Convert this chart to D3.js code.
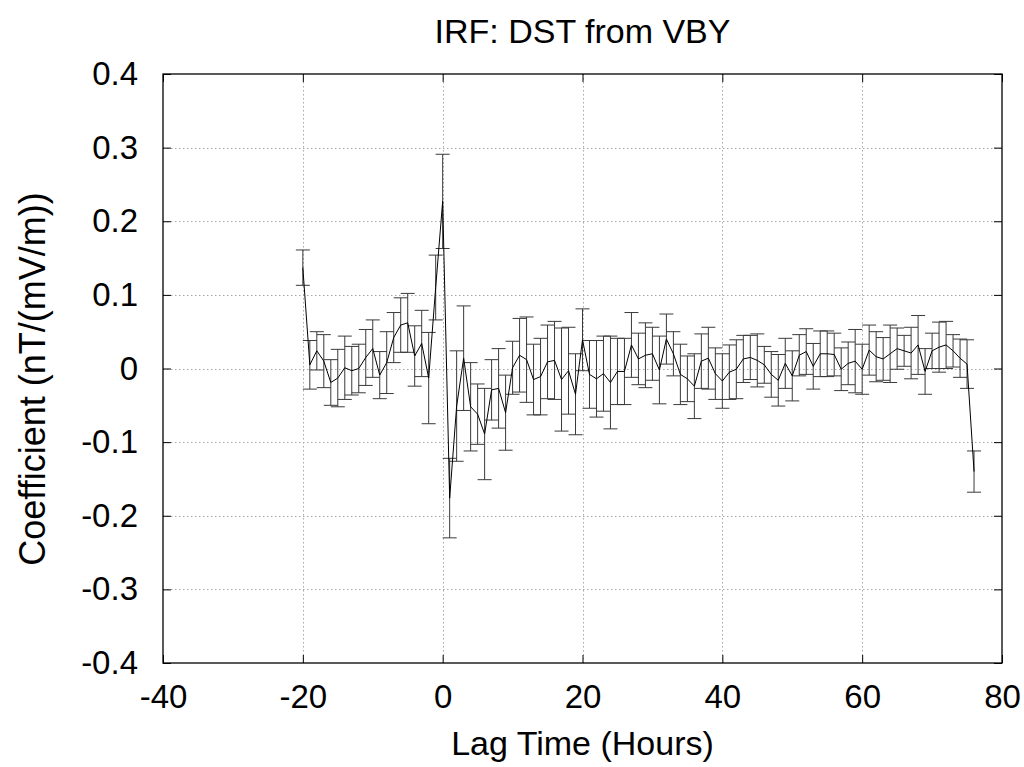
<!DOCTYPE html>
<html>
<head>
<meta charset="utf-8">
<script src="https://cdn.jsdelivr.net/npm/d3@7"></script>
<style>
  body { margin: 0; background: #fff; }
  text { font-family: "Liberation Sans", Arial, sans-serif; fill: #000; }
</style>
</head>
<body>
<div id="chart"></div>
<script>
// IRF: DST from VBY -- coefficient vs lag with error bars
const W = 1024, H = 767;

const lags = [-20, -19, -18, -17, -16, -15, -14, -13, -12, -11, -10, -9, -8, -7, -6, -5, -4, -3, -2, -1,
  0, 1, 2, 3, 4, 5, 6, 7, 8, 9, 10, 11, 12, 13, 14, 15, 16, 17, 18, 19,
  20, 21, 22, 23, 24, 25, 26, 27, 28, 29, 30, 31, 32, 33, 34, 35, 36, 37, 38, 39,
  40, 41, 42, 43, 44, 45, 46, 47, 48, 49, 50, 51, 52, 53, 54, 55, 56, 57, 58, 59,
  60, 61, 62, 63, 64, 65, 66, 67, 68, 69, 70, 71, 72, 73, 74, 75, 76];

const coef = [0.137, 0.005, 0.024, 0.010, -0.019, -0.013, 0.001, -0.003, 0.000, 0.015,
  0.027, -0.009, 0.008, 0.042, 0.059, 0.062, 0.017, 0.034, -0.013, 0.110,
  0.227, -0.176, -0.051, 0.014, -0.052, -0.062, -0.089, -0.029, -0.027, -0.060,
  0.001, 0.018, 0.012, -0.015, -0.011, 0.009, 0.011, -0.015, -0.003, -0.035,
  0.039, -0.008, -0.014, -0.007, -0.019, -0.004, -0.004, 0.032, 0.013, 0.018,
  0.020, -0.002, 0.040, 0.020, -0.008, -0.014, -0.024, 0.010, 0.014, -0.007,
  -0.017, -0.005, -0.001, 0.013, 0.015, 0.011, 0.005, -0.008, -0.016, 0.007,
  -0.010, 0.018, 0.023, 0.003, 0.020, 0.020, 0.019, -0.001, 0.007, 0.010,
  -0.001, 0.025, 0.016, 0.013, 0.020, 0.027, 0.024, 0.021, 0.032, -0.004,
  0.024, 0.029, 0.032, 0.024, 0.014, 0.006, -0.140];

const err = [0.024, 0.033, 0.026, 0.036, 0.031, 0.039, 0.043, 0.033, 0.033, 0.038,
  0.039, 0.032, 0.042, 0.034, 0.037, 0.040, 0.041, 0.045, 0.062, 0.044,
  0.064, 0.054, 0.075, 0.071, 0.060, 0.041, 0.062, 0.041, 0.054, 0.051,
  0.036, 0.050, 0.058, 0.048, 0.052, 0.050, 0.053, 0.070, 0.059, 0.055,
  0.042, 0.046, 0.052, 0.051, 0.063, 0.045, 0.045, 0.044, 0.035, 0.044,
  0.036, 0.046, 0.034, 0.030, 0.041, 0.031, 0.044, 0.037, 0.042, 0.035,
  0.037, 0.037, 0.040, 0.032, 0.030, 0.036, 0.025, 0.031, 0.035, 0.034,
  0.034, 0.028, 0.031, 0.031, 0.031, 0.031, 0.029, 0.029, 0.029, 0.043,
  0.034, 0.034, 0.034, 0.029, 0.039, 0.028, 0.021, 0.035, 0.040, 0.031,
  0.024, 0.034, 0.032, 0.022, 0.026, 0.033, 0.028];

const xTicks = [-40, -20, 0, 20, 40, 60, 80];
const yTicks = [-0.4, -0.3, -0.2, -0.1, 0, 0.1, 0.2, 0.3, 0.4];

const titleText = "IRF: DST from VBY";
const xLabel = "Lag Time (Hours)";
const yLabel = "Coefficient (nT/(mV/m))";

const data = lags.map((l, i) => ({ lag: l, v: coef[i], e: err[i] }));

const pL = 163, pR = 1002, pT = 74, pB = 663;
const x = d3.scaleLinear().domain([-40, 80]).range([pL, pR]);
const y = d3.scaleLinear().domain([-0.4, 0.4]).range([pB, pT]);

const svg = d3.select("#chart").append("svg")
  .attr("width", W).attr("height", H)
  .style("background", "#fff");

// grid (dotted)
const grid = svg.append("g").attr("stroke", "#a8a8a8").attr("stroke-width", 1)
  .attr("stroke-dasharray", "1.5,2.5");
grid.selectAll(".gx").data(xTicks.slice(1, -1)).join("line").attr("class", "gx")
  .attr("x1", d => Math.round(x(d)) + 0.5).attr("x2", d => Math.round(x(d)) + 0.5)
  .attr("y1", pT).attr("y2", pB);
grid.selectAll(".gy").data(yTicks.slice(1, -1)).join("line").attr("class", "gy")
  .attr("y1", d => Math.round(y(d)) + 0.5).attr("y2", d => Math.round(y(d)) + 0.5)
  .attr("x1", pL).attr("x2", pR);

// axes with inward ticks, mirrored on top/right
const fmtY = d => (d === 0 ? "0" : String(+d.toFixed(1)));
svg.append("g").attr("transform", `translate(${pL},0)`)
  .call(d3.axisLeft(y).tickValues(yTicks).tickFormat(fmtY).tickSizeInner(-8).tickSizeOuter(0).tickPadding(25))
  .call(g => g.select(".domain").remove())
  .call(g => g.selectAll("text").attr("font-size", 33).attr("font-family", "Liberation Sans, Arial, sans-serif"));
svg.append("g").attr("transform", `translate(${pR},0)`)
  .call(d3.axisRight(y).tickValues(yTicks).tickFormat("").tickSizeInner(-8).tickSizeOuter(0))
  .call(g => g.select(".domain").remove());
svg.append("g").attr("transform", `translate(0,${pB})`)
  .call(d3.axisBottom(x).tickValues(xTicks).tickFormat(d => String(d)).tickSizeInner(-8).tickSizeOuter(0).tickPadding(22))
  .call(g => g.select(".domain").remove())
  .call(g => g.selectAll("text").attr("font-size", 33).attr("font-family", "Liberation Sans, Arial, sans-serif"));
svg.append("g").attr("transform", `translate(0,${pT})`)
  .call(d3.axisTop(x).tickValues(xTicks).tickFormat("").tickSizeInner(-8).tickSizeOuter(0))
  .call(g => g.select(".domain").remove());

// error bars
const bars = svg.append("g").attr("stroke", "#3a3a3a").attr("stroke-width", 1).attr("fill", "none");
bars.selectAll("path").data(data).join("path")
  .attr("d", d => {
    const cx = x(d.lag), y1 = y(d.v + d.e), y2 = y(d.v - d.e), c = 7;
    return `M${cx},${y1}V${y2}M${cx - c},${y1}H${cx + c}M${cx - c},${y2}H${cx + c}`;
  });

// line
svg.append("path").datum(data)
  .attr("fill", "none").attr("stroke", "#000").attr("stroke-width", 1)
  .attr("d", d3.line().x(d => x(d.lag)).y(d => y(d.v)));

// frame
svg.append("rect").attr("x", pL).attr("y", pT)
  .attr("width", pR - pL).attr("height", pB - pT)
  .attr("fill", "none").attr("stroke", "#000").attr("stroke-width", 1.3);

// labels
svg.append("text").attr("x", (pL + pR) / 2).attr("y", 43)
  .attr("text-anchor", "middle").attr("font-size", 34).text(titleText);
svg.append("text").attr("x", (pL + pR) / 2).attr("y", 755)
  .attr("text-anchor", "middle").attr("font-size", 34).text(xLabel);
svg.append("text").attr("transform", `translate(45,379) rotate(-90)`)
  .attr("text-anchor", "middle").attr("font-size", 36).text(yLabel);
</script>
</body>
</html>
